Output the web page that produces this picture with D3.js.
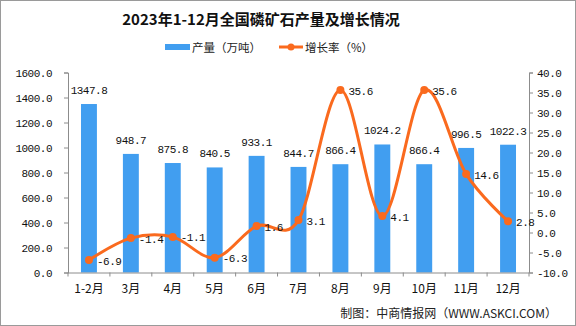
<!DOCTYPE html>
<html><head><meta charset="utf-8">
<script src="https://cdn.jsdelivr.net/npm/d3@7"></script>
<style>html,body{margin:0;padding:0;background:#fff;}svg{display:block;}</style>
</head><body><svg id="c" width="576" height="326"></svg>
<script>
const categories = ["1-2月","3月","4月","5月","6月","7月","8月","9月","10月","11月","12月"];
const production = [1347.8, 948.7, 875.8, 840.5, 933.1, 844.7, 866.4, 1024.2, 866.4, 996.5, 1022.3];
const growth = [-6.9, -1.4, -1.1, -6.3, 1.6, 3.1, 35.6, 4.1, 35.6, 14.6, 2.8];
const leftTicks = [0, 200, 400, 600, 800, 1000, 1200, 1400, 1600];
const rightTicks = [-10, -5, 0, 5, 10, 15, 20, 25, 30, 35, 40];
const title = "2023年1-12月全国磷矿石产量及增长情况";
const legendLabels = ["产量（万吨）", "增长率（%）"];
const source = "制图：中商情报网（WWW.ASKCI.COM）";

const W = 576, H = 326;
const m = {l: 68, r: 47, t: 72.5, b: 53.5};
const svg = d3.select("#c");
const numFont = "'Liberation Mono','Noto Sans CJK SC',monospace";
const cjkFont = "'Noto Sans CJK SC','Liberation Mono',sans-serif";
const barColor = "#419ef0", lineColor = "#fa6a1e", axisColor = "#8c8c8c";

svg.append("rect").attr("x",0.5).attr("y",0.5).attr("width",W-1).attr("height",H-1)
  .attr("fill","#fff").attr("stroke","#9a9a9a");

const x = d3.scaleBand().domain(categories).range([m.l, W-m.r]).paddingInner(0.62).paddingOuter(0.31);
const xb = d3.scaleBand().domain(categories).range([m.l, W-m.r]);
const yL = d3.scaleLinear().domain([0,1600]).range([H-m.b, m.t]);
const yR = d3.scaleLinear().domain([-10,40]).range([H-m.b, m.t]);

// title
svg.append("text").attr("x",261).attr("y",25).attr("text-anchor","middle")
  .attr("font-family",cjkFont).attr("font-weight","bold").attr("font-size",15)
  .attr("fill","#111").text(title);

// legend
svg.append("rect").attr("x",165).attr("y",44).attr("width",25).attr("height",6).attr("fill",barColor);
svg.append("text").attr("x",192).attr("y",51.5).attr("font-family",cjkFont).attr("font-size",11.5).attr("fill","#222").text(legendLabels[0]);
svg.append("line").attr("x1",279).attr("x2",303).attr("y1",47).attr("y2",47).attr("stroke",lineColor).attr("stroke-width",3);
svg.append("circle").attr("cx",291).attr("cy",47).attr("r",3.5).attr("fill",lineColor);
svg.append("text").attr("x",305).attr("y",51.5).attr("font-family",cjkFont).attr("font-size",11.5).attr("fill","#222").text(legendLabels[1]);

// bars
svg.append("g").selectAll("rect").data(production).join("rect")
  .attr("x",(d,i)=>x(categories[i])).attr("width",x.bandwidth())
  .attr("y",d=>yL(d)).attr("height",d=>yL(0)-yL(d)).attr("fill",barColor);

// axes
const fmt = v => v.toFixed(1);
const gL = svg.append("g").attr("transform",`translate(${m.l},0)`)
  .call(d3.axisLeft(yL).tickValues(leftTicks).tickFormat(fmt).tickSize(4).tickPadding(12));
const gR = svg.append("g").attr("transform",`translate(${W-m.r},0)`)
  .call(d3.axisRight(yR).tickValues(rightTicks).tickFormat(fmt).tickSize(4).tickPadding(4));
const gX = svg.append("g").attr("transform",`translate(0,${H-m.b})`)
  .call(d3.axisBottom(xb).tickSize(0).tickPadding(12));
// x tick marks at band boundaries
svg.append("g").selectAll("line").data(categories.concat([null])).join("line")
  .attr("x1",(d,i)=>m.l + i*xb.step()).attr("x2",(d,i)=>m.l + i*xb.step())
  .attr("y1",H-m.b).attr("y2",H-m.b+4).attr("stroke",axisColor);
[gL,gR,gX].forEach(g=>{
  g.selectAll("path.domain").attr("stroke",axisColor);
  g.selectAll(".tick line").attr("stroke",axisColor);
  g.selectAll("text").attr("font-family",numFont).attr("font-size",11).attr("letter-spacing","-0.5px").attr("fill","#111");
});
gX.select("path.domain").remove();
svg.append("line").attr("x1",m.l).attr("x2",W-m.r).attr("y1",H-m.b+0.5).attr("y2",H-m.b+0.5).attr("stroke",axisColor);
gX.selectAll("text").attr("font-family",cjkFont).attr("font-size",12).attr("letter-spacing","0");

// line
const cx = i => xb(categories[i]) + xb.bandwidth()/2;
const line = d3.line().x((d,i)=>cx(i)).y(d=>yR(d)).curve(d3.curveCardinal.tension(0));
svg.append("path").datum(growth).attr("d",line).attr("fill","none").attr("stroke",lineColor).attr("stroke-width",3);
svg.append("g").selectAll("circle").data(growth).join("circle")
  .attr("cx",(d,i)=>cx(i)).attr("cy",d=>yR(d)).attr("r",4).attr("fill",lineColor);

// bar labels
svg.append("g").selectAll("text").data(production).join("text")
  .attr("x",(d,i)=>cx(i)).attr("y",d=>yL(d)-10).attr("text-anchor","middle")
  .attr("font-family",numFont).attr("font-size",11).attr("letter-spacing","-0.5px").attr("fill","#111")
  .text(d=>d.toFixed(1));
// line labels
svg.append("g").selectAll("text").data(growth).join("text")
  .attr("x",(d,i)=>cx(i)+8).attr("y",d=>yR(d)+4.5)
  .attr("font-family",numFont).attr("font-size",11).attr("letter-spacing","-0.5px").attr("fill","#111")
  .text(d=>d.toFixed(1));

// source
svg.append("text").attr("x",557).attr("y",317.5).attr("text-anchor","end")
  .attr("font-family",cjkFont).attr("font-size",12).attr("fill","#222").text(source);
</script></body></html>
